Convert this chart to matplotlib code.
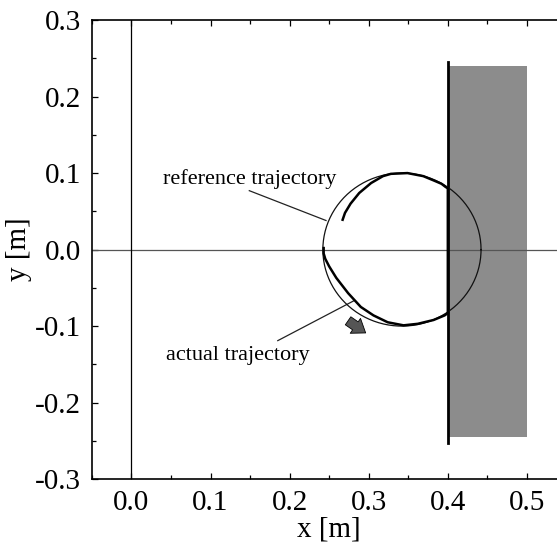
import numpy as np
import matplotlib.pyplot as plt
from matplotlib.ticker import MultipleLocator

plt.rcParams['font.family'] = ['Liberation Serif', 'DejaVu Serif']

# reference trajectory: circle
ref_cx, ref_cy, ref_r = 0.342, 0.0, 0.1

# actual trajectory (counter-clockwise)
actual_x = [0.243, 0.243, 0.245, 0.250, 0.259, 0.274, 0.290, 0.306, 0.324,
            0.344, 0.362, 0.382, 0.396, 0.400, 0.400, 0.397, 0.392, 0.383,
            0.369, 0.349, 0.328, 0.318, 0.303, 0.288, 0.277, 0.270, 0.267]
actual_y = [0.002, -0.005, -0.012, -0.022, -0.037, -0.057, -0.075, -0.086,
            -0.095, -0.099, -0.097, -0.092, -0.086, -0.083, 0.080, 0.082,
            0.086, 0.090, 0.096, 0.100, 0.099, 0.096, 0.087, 0.074, 0.060,
            0.048, 0.039]

# obstacle (shaded block) and wall
block_x = [0.40, 0.50]
block_y = [-0.245, 0.24]
wall_x = 0.40
wall_y = [-0.253, 0.245]

xticks = [0.0, 0.1, 0.2, 0.3, 0.4, 0.5]
yticks = [-0.3, -0.2, -0.1, 0.0, 0.1, 0.2, 0.3]

fig = plt.figure(figsize=(5.57, 5.42), dpi=100)
ax = fig.add_axes([0.165, 0.116, 0.852, 0.847])

ax.fill_between(block_x, block_y[0], block_y[1], color='#8c8c8c', lw=0, zorder=1)
ax.plot([wall_x, wall_x], wall_y, color='black', lw=2.0, zorder=3)

ax.axhline(0.0, color='#555555', lw=0.9, zorder=2)
ax.axvline(0.0, color='black', lw=0.9, zorder=2)

t = np.linspace(0, 2 * np.pi, 300)
ax.plot(ref_cx + ref_r * np.cos(t), ref_cy + ref_r * np.sin(t),
        color='#111111', lw=0.9, zorder=3)
ax.plot(actual_x, actual_y, color='black', lw=1.8, zorder=4,
        solid_joinstyle='round')

# labels with leader lines
ax.text(0.04, 0.092, 'reference trajectory', fontsize=16, va='center', ha='left')
ax.plot([0.149, 0.246], [0.077, 0.038], color='#222222', lw=0.9)
ax.text(0.044, -0.138, 'actual trajectory', fontsize=16, va='center', ha='left')
ax.plot([0.185, 0.281], [-0.119, -0.067], color='#222222', lw=0.9)

# direction arrow
ax.annotate('', xy=(0.299, -0.111), xytext=(0.271, -0.091),
            arrowprops=dict(arrowstyle='simple,head_width=1.3,head_length=0.9,tail_width=0.7',
                            fc='#555555', ec='black', lw=0.6))

ax.set_xlim(-0.05, 0.55)
ax.set_ylim(-0.3, 0.3)
ax.set_xticks(xticks)
ax.set_yticks(yticks)
ax.set_xticklabels(['%.1f' % v for v in xticks])
ax.set_yticklabels(['%.1f' % v for v in yticks])
ax.xaxis.set_minor_locator(MultipleLocator(0.05))
ax.yaxis.set_minor_locator(MultipleLocator(0.05))
ax.tick_params(which='both', direction='in', top=True, right=False,
               labelsize=21, width=0.9)
ax.tick_params(which='major', length=4, pad=8)
ax.tick_params(which='minor', length=3)
ax.spines['right'].set_visible(False)
for s in ['left', 'top', 'bottom']:
    ax.spines[s].set_linewidth(1.2)

ax.set_xlabel('x [m]', fontsize=21, labelpad=0)
ax.set_ylabel('y [m]', fontsize=21, labelpad=2)

fig.savefig('out.png', dpi=100)
